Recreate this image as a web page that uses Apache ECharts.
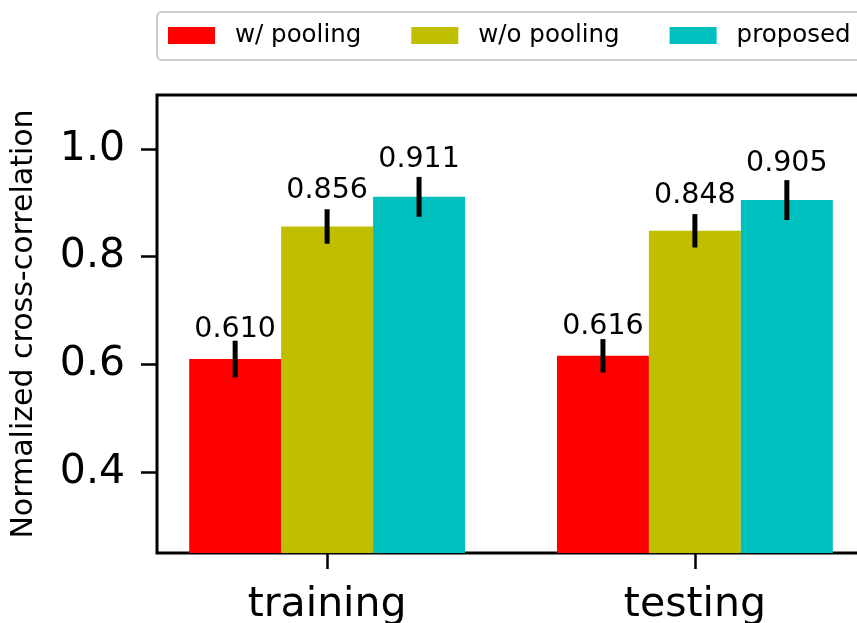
<!DOCTYPE html>
<html>
<head>
<meta charset="utf-8">
<script src="https://cdn.jsdelivr.net/npm/echarts@6/dist/echarts.min.js"></script>
<style>
html,body{margin:0;padding:0;background:#fff;}
#chart{width:857px;height:623px;}
</style>
</head>
<body>
<div id="chart"></div>
<script>
const categories = ['training', 'testing'];
const seriesNames = ['w/ pooling', 'w/o pooling', 'proposed'];
const seriesColors = ['#ff0000', '#bfbf00', '#00bfbf'];
const withPooling = [0.610, 0.616];
const withoutPooling = [0.856, 0.848];
const proposed = [0.911, 0.905];
const withPoolingErr = [0.034, 0.031];
const withoutPoolingErr = [0.032, 0.031];
const proposedErr = [0.037, 0.037];
const yTicks = [0.4, 0.6, 0.8, 1.0];
const yMin = 0.25, yMax = 1.1;

const FONT = 'DejaVu Sans';
const barW = 0.25;
const values = [withPooling, withoutPooling, proposed];
const errs = [withPoolingErr, withoutPoolingErr, proposedErr];

function makeRender(offset) {
  return function (params, api) {
    const x = api.value(0) + offset;
    const v = api.value(1);
    const e = api.value(2);
    const p1 = api.coord([x - barW / 2, v]);
    const p2 = api.coord([x + barW / 2, yMin]);
    const e1 = api.coord([x, v + e]);
    const e2 = api.coord([x, v - e]);
    const lp = api.coord([x, v * 1.05]);
    return {
      type: 'group',
      children: [
        { type: 'rect', shape: { x: p1[0], y: p1[1], width: p2[0] - p1[0], height: p2[1] - p1[1] },
          style: { fill: api.visual('color') } },
        { type: 'line', shape: { x1: e1[0], y1: e1[1], x2: e2[0], y2: e2[1] },
          style: { stroke: '#000', lineWidth: 5 } },
        { type: 'text', x: lp[0], y: lp[1] + 2,
          style: { text: v.toFixed(3), align: 'center', verticalAlign: 'bottom',
                   fontSize: 28.5, fontFamily: FONT, fill: '#000' } }
      ]
    };
  };
}

const series = seriesNames.map((name, i) => ({
  name: name,
  type: 'custom',
  color: seriesColors[i],
  itemStyle: { color: seriesColors[i] },
  renderItem: makeRender((i - 1) * barW),
  encode: { x: 0, y: 1 },
  data: categories.map((c, j) => [j, values[i][j], errs[i][j]])
}));

const chart = echarts.init(document.getElementById('chart'));
chart.setOption({
  animation: false,
  color: seriesColors,
  grid: { left: 157, top: 95, width: 708, height: 458, show: true,
          outerBoundsMode: 'none', containLabel: false,
          borderColor: '#000', borderWidth: 3, backgroundColor: 'transparent' },
  legend: {
    left: 157, top: 12, width: 1000,
    orient: 'horizontal',
    data: seriesNames,
    icon: 'rect',
    itemWidth: 47, itemHeight: 17, itemGap: 50,
    padding: [11, 11, 12, 11],
    borderColor: '#cccccc', borderWidth: 2, borderRadius: 5,
    backgroundColor: '#fff',
    textStyle: { fontSize: 24.5, fontFamily: FONT, color: '#000', padding: [0, 0, 0, 15] }
  },
  xAxis: {
    type: 'value', min: -0.4625, max: 1.4625,
    axisLine: { show: false, onZero: false },
    splitLine: { show: false },
    axisTick: { show: true, customValues: [0, 1], length: 16, lineStyle: { color: '#000', width: 2.5 } },
    axisLabel: { customValues: [0, 1], formatter: v => categories[Math.round(v)],
                 fontSize: 41, fontFamily: FONT, color: '#000', margin: 32 }
  },
  yAxis: {
    type: 'value', min: yMin, max: yMax,
    name: 'Normalized cross-correlation',
    nameLocation: 'middle', nameGap: 118,
    nameTextStyle: { fontSize: 30, fontFamily: FONT, color: '#000' },
    axisLine: { show: false, onZero: false },
    splitLine: { show: false },
    axisTick: { show: true, customValues: yTicks, length: 16, lineStyle: { color: '#000', width: 2.5 } },
    axisLabel: { customValues: yTicks, formatter: v => v.toFixed(1),
                 fontSize: 41, fontFamily: FONT, color: '#000', margin: 32 }
  },
  series: series
});
</script>
</body>
</html>
